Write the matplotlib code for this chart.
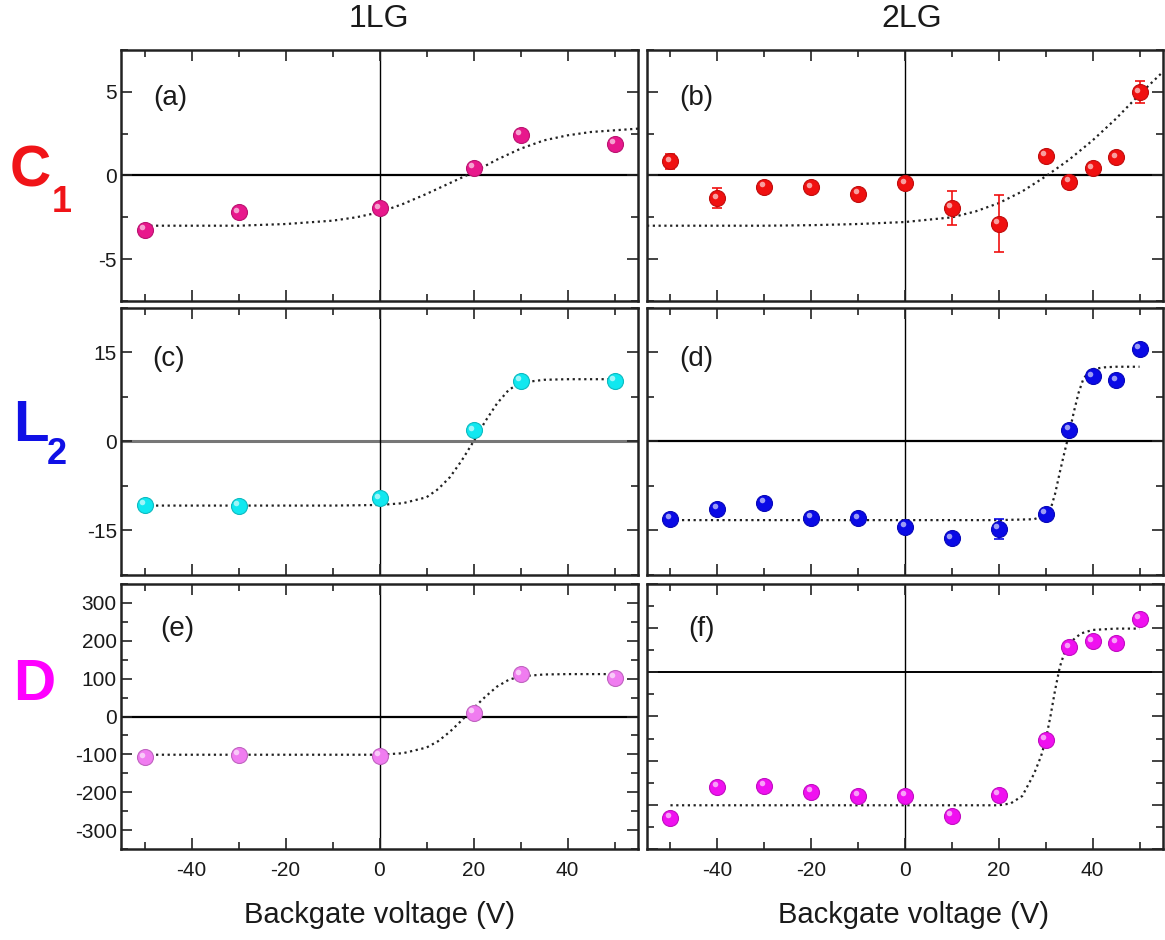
import matplotlib
matplotlib.use("Agg")
import matplotlib.pyplot as plt
from matplotlib.ticker import MultipleLocator, NullFormatter
from matplotlib.transforms import offset_copy
import matplotlib.colors as mcolors

plt.rcParams['font.family'] = ['Liberation Sans', 'DejaVu Sans']
plt.rcParams['axes.unicode_minus'] = False

# ---------------- data ----------------
# 1LG (monolayer) backgate voltages
v_1lg = [-50, -30, 0, 20, 30, 50]
# 2LG (bilayer) backgate voltages
v_2lg = [-50, -40, -30, -20, -10, 0, 10, 20, 30, 35, 40, 45, 50]

# C1
c1_1lg = [-3.25, -2.2, -1.95, 0.45, 2.45, 1.9]
c1_2lg = [0.85, -1.37, -0.66, -0.7, -1.1, -0.46, -1.93, -2.88, 1.19, -0.36, 0.44, 1.09, 4.97]
c1_2lg_err = [0.45, 0.6, 0.25, 0.25, 0.25, 0.3, 1.0, 1.7, 0.3, 0.25, 0.3, 0.3, 0.65]
fit_c1_1lg_v = [-50, -40, -30, -20, -10, -5, 0, 5, 10, 15, 20, 25, 30, 35, 40, 45, 50, 55]
fit_c1_1lg = [-3.0, -3.0, -3.0, -2.9, -2.7, -2.5, -2.2, -1.7, -1.1, -0.45, 0.2, 0.95, 1.6, 2.1, 2.4, 2.6, 2.7, 2.8]
fit_c1_2lg_v = [-55, -40, -30, -20, -10, 0, 10, 15, 20, 25, 30, 35, 40, 45, 50, 55]
fit_c1_2lg = [-3.0, -3.0, -3.0, -2.97, -2.9, -2.78, -2.5, -2.15, -1.65, -0.95, -0.05, 0.95, 2.1, 3.4, 4.85, 6.2]

# L2
l2_1lg = [-10.7, -10.8, -9.6, 1.9, 10.2, 10.2]
l2_2lg = [-13.0, -11.3, -10.3, -12.85, -12.95, -14.4, -16.3, -14.7, -12.2, 2.0, 11.0, 10.35, 15.6]
l2_2lg_err = [0.5, 0.5, 0.5, 0.5, 0.5, 0.5, 0.5, 1.7, 0.5, 0.5, 0.5, 0.5, 0.5]
fit_l2_1lg_v = [-50, -40, -30, -20, -10, 0, 5, 10, 12.5, 15, 17.5, 20, 22.5, 25, 27.5, 30, 35, 40, 50]
fit_l2_1lg = [-10.8, -10.8, -10.8, -10.8, -10.8, -10.7, -10.4, -9.4, -8.0, -6.0, -3.2, 0.0, 3.4, 6.4, 8.7, 9.9, 10.4, 10.5, 10.5]
fit_l2_2lg_v = [-50, -40, -30, -20, -10, 0, 10, 20, 27.5, 30, 31, 32, 33, 34, 35, 36, 37, 38, 39, 40, 42.5, 45, 50]
fit_l2_2lg = [-13.25, -13.25, -13.25, -13.25, -13.25, -13.25, -13.25, -13.25, -13.1, -12.4, -11.5, -8.8,
              -5.2, -1.8, 1.4, 5.0, 8.2, 10.5, 11.6, 12.2, 12.5, 12.6, 12.6]

# D
d_1lg = [-108, -101, -104, 10, 112, 103]
d_2lg = [-329, -259, -257, -270, -280, -280, -325, -277, -153, 57, 70, 67, 121]
fit_d_1lg_v = [-50, -40, -30, -20, -10, 0, 5, 10, 12.5, 15, 17.5, 20, 22.5, 25, 27.5, 30, 35, 40, 50]
fit_d_1lg = [-101, -101, -101, -101, -101, -101, -97, -82, -65, -40, -10, 22, 52, 79, 97, 106, 111, 112, 112]
fit_d_2lg_v = [-50, -40, -30, -20, -10, 0, 10, 20, 22.5, 25, 27.5, 29, 30, 31, 32, 33, 34, 35, 37.5, 40, 45, 50]
fit_d_2lg = [-301, -301, -301, -301, -301, -301, -301, -301, -297, -280, -230, -190, -153, -100, -40, 12,
             45, 66, 88, 96, 99, 99]

panel_letters = ['(a)', '(b)', '(c)', '(d)', '(e)', '(f)']
col_titles = ['1LG', '2LG']
x_label = 'Backgate voltage (V)'

# ---------------- figure ----------------
W, H = 1165, 940
fig = plt.figure(figsize=(W / 100, H / 100), dpi=100)


def px_axes(x0, x1, y0, y1):
    return fig.add_axes([x0 / W, 1 - y1 / H, (x1 - x0) / W, (y1 - y0) / H])


col_px = [(121, 638), (647, 1163)]
row_px = [(50, 301), (308, 575), (584, 849)]

axes = [[px_axes(c[0], c[1], r[0], r[1]) for c in col_px] for r in row_px]

TXT = '#1a1a1a'


def darker(c, f=0.7):
    r, g, b = mcolors.to_rgb(c)
    return (r * f, g * f, b * f)


def draw_points(ax, x, y, color, err=None):
    if err is not None:
        ax.errorbar(x, y, yerr=err, fmt='none', ecolor=color, elinewidth=1.2,
                    capsize=3.5, capthick=1.2, zorder=3)
    ax.plot(x, y, 'o', ms=11.5, color=color, mec=darker(color, 0.8), mew=0.8,
            linestyle='none', zorder=4)
    tr = offset_copy(ax.transData, fig=fig, x=-1.8, y=1.8, units='points')
    ax.plot(x, y, 'o', ms=4, color='white', alpha=0.6, mec='none',
            linestyle='none', transform=tr, zorder=5)


def draw_fit(ax, x, y):
    ax.plot(x, y, linestyle=(0, (1, 1.6)), color='#222222', lw=1.6, zorder=2)


def style(ax, ylim, major, minor, show_ylabels, show_xlabels, hline_color='black', hline_lw=1.6):
    ax.set_xlim(-55, 55)
    ax.set_ylim(*ylim)
    ax.xaxis.set_major_locator(MultipleLocator(20))
    ax.xaxis.set_minor_locator(MultipleLocator(10))
    ax.yaxis.set_major_locator(MultipleLocator(major))
    ax.yaxis.set_minor_locator(MultipleLocator(minor))
    ax.tick_params(which='both', direction='in', top=True, right=True,
                   width=1.2, colors='#222222', labelcolor=TXT)
    ax.tick_params(which='major', length=8)
    ax.tick_params(which='minor', length=5)
    ax.tick_params(axis='y', labelsize=15, pad=3)
    ax.tick_params(axis='x', labelsize=15, pad=9)
    if not show_ylabels:
        ax.yaxis.set_major_formatter(NullFormatter())
    if not show_xlabels:
        ax.xaxis.set_major_formatter(NullFormatter())
    for s in ax.spines.values():
        s.set_linewidth(1.8)
        s.set_color('#222222')
    ax.axhline(0, color=hline_color, lw=hline_lw, zorder=1)
    ax.axvline(0, color='black', lw=1.0, zorder=1)


# colours
col_a = '#E8188C'
col_b = '#F01010'
col_c = '#10E8F0'
col_d = '#0A0AE6'
col_e = '#F07CF0'
col_f = '#F010F0'

# row 1: C1
ax = axes[0][0]
style(ax, (-7.5, 7.5), 5, 2.5, True, False)
draw_fit(ax, fit_c1_1lg_v, fit_c1_1lg)
draw_points(ax, v_1lg, c1_1lg, col_a)
ax = axes[0][1]
style(ax, (-7.5, 7.5), 5, 2.5, False, False)
draw_fit(ax, fit_c1_2lg_v, fit_c1_2lg)
draw_points(ax, v_2lg, c1_2lg, col_b, c1_2lg_err)

# row 2: L2
ax = axes[1][0]
style(ax, (-22.5, 22.5), 15, 7.5, True, False, hline_color='#777777', hline_lw=2.2)
draw_fit(ax, fit_l2_1lg_v, fit_l2_1lg)
draw_points(ax, v_1lg, l2_1lg, col_c)
ax = axes[1][1]
style(ax, (-22.5, 22.5), 15, 7.5, False, False)
draw_fit(ax, fit_l2_2lg_v, fit_l2_2lg)
draw_points(ax, v_2lg, l2_2lg, col_d, l2_2lg_err)

# row 3: D
ax = axes[2][0]
style(ax, (-350, 350), 100, 50, True, True)
draw_fit(ax, fit_d_1lg_v, fit_d_1lg)
draw_points(ax, v_1lg, d_1lg, col_e)
ax = axes[2][1]
style(ax, (-400, 200), 100, 50, False, True, hline_lw=1.4)
draw_fit(ax, fit_d_2lg_v, fit_d_2lg)
draw_points(ax, v_2lg, d_2lg, col_f)

# panel letters
letter_pos = [(0.063, 0.81), (0.063, 0.81), (0.060, 0.81), (0.063, 0.81), (0.075, 0.83), (0.08, 0.83)]
k = 0
for r in range(3):
    for c in range(2):
        axes[r][c].text(letter_pos[k][0], letter_pos[k][1], panel_letters[k], transform=axes[r][c].transAxes,
                        ha='left', va='center', fontsize=20, color=TXT, zorder=6)
        k += 1

# column titles
fig.text(379 / W, 1 - 19 / H, col_titles[0], ha='center', va='center', fontsize=23, color=TXT)
fig.text(912 / W, 1 - 19 / H, col_titles[1], ha='center', va='center', fontsize=23, color=TXT)

# x labels
fig.text(379 / W, 1 - 915 / H, x_label, ha='center', va='center', fontsize=21, color=TXT)
fig.text(914 / W, 1 - 915 / H, x_label, ha='center', va='center', fontsize=21, color=TXT)

# row labels
fig.text(10 / W, 1 - 172 / H, 'C', ha='left', va='center', fontsize=41, fontweight='bold', color='#F01418')
fig.text(52 / W, 1 - 202 / H, '1', ha='left', va='center', fontsize=26, fontweight='bold', color='#F01418')
fig.text(13 / W, 1 - 426 / H, 'L', ha='left', va='center', fontsize=42, fontweight='bold', color='#1010E6')
fig.text(47 / W, 1 - 455 / H, '2', ha='left', va='center', fontsize=26, fontweight='bold', color='#1010E6')
fig.text(13 / W, 1 - 685 / H, 'D', ha='left', va='center', fontsize=42, fontweight='bold', color='#FF00FF')

fig.savefig('out.png', dpi=100)
